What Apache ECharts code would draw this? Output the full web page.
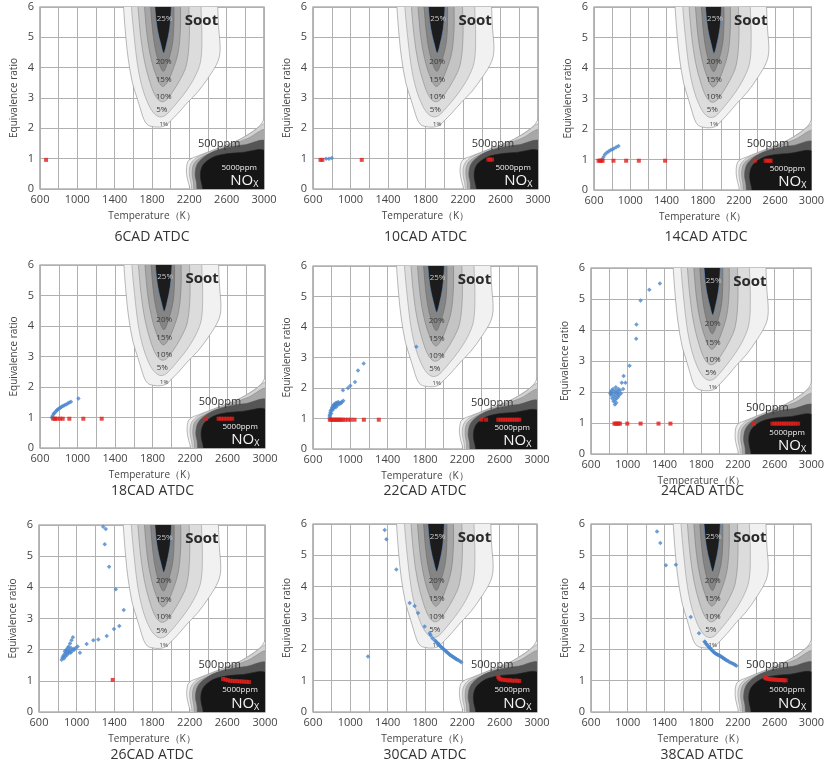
<!DOCTYPE html>
<html lang="en">
<head>
    <meta charset="UTF-8">
    <title>Equivalence ratio - temperature maps</title>
    <script src="https://cdn.jsdelivr.net/npm/echarts@6.0.0/dist/echarts.min.js"></script>
    <style>
        body { margin: 0; background: #fff; }
        #chart { width: 827px; height: 767px; }
    </style>
</head>
<body>
    <div id="chart"></div>
    <script>
        // axis ranges
        const tempMin = 600, tempMax = 3000, tempStep = 200, tempLabelStep = 400;
        const phiMin = 0, phiMax = 6, phiStep = 1;

        const panelTitles = ['6CAD ATDC', '10CAD ATDC', '14CAD ATDC', '18CAD ATDC', '22CAD ATDC',
            '24CAD ATDC', '26CAD ATDC', '30CAD ATDC', '38CAD ATDC'];

        // soot contour outlines [T, phi]
        const soot01 = [[1490,6.4],[1495,6],[1520,5],[1545,4.3],[1590,3.5],[1640,3.0],[1680,2.6],[1712,2.3],[1750,2.12],[1800,2.06],[1880,2.04],[1950,2.1],[2000,2.25],[2080,2.5],[2180,2.85],[2290,3.2],[2410,3.7],[2505,4.2],[2530,4.6],[2515,5.3],[2505,6],[2505,6.4]];
        const soot05 = [[1575,6.4],[1580,6],[1610,5],[1650,4],[1700,3.3],[1760,2.8],[1820,2.5],[1880,2.38],[1940,2.42],[2000,2.6],[2070,2.85],[2160,3.2],[2260,3.7],[2320,4.2],[2335,5],[2325,6],[2325,6.4]];
        const soot10 = [[1645,6.4],[1650,6],[1680,5],[1720,4.2],[1780,3.5],[1840,3.05],[1900,2.88],[1960,2.95],[2020,3.2],[2100,3.6],[2170,4.1],[2200,5],[2195,6],[2195,6.4]];
        const soot15 = [[1715,6.4],[1720,6],[1750,5],[1790,4.3],[1850,3.7],[1910,3.38],[1960,3.5],[2020,3.9],[2080,4.5],[2105,5.3],[2105,6],[2105,6.4]];
        const soot20 = [[1780,6.4],[1785,6],[1815,5],[1860,4.3],[1920,3.88],[1970,4.2],[2020,4.8],[2035,5.5],[2035,6],[2035,6.4]];
        const soot25 = [[1825,6.4],[1830,6],[1855,5.3],[1900,4.7],[1925,4.48],[1950,4.7],[1990,5.3],[2008,6],[2008,6.4]];

        // NOx contour outlines [T, phi]
        const nox500 = [[2240,-0.4],[2200,0.1],[2175,0.4],[2170,0.7],[2195,0.95],[2300,1.1],[2450,1.28],[2600,1.45],[2750,1.65],[2880,1.9],[2960,2.1],[3020,2.35],[3020,-0.4]];
        const nox1000 = [[2265,-0.4],[2218,0.2],[2200,0.5],[2212,0.8],[2272,1.02],[2400,1.2],[2560,1.4],[2720,1.6],[2860,1.85],[3020,2.12],[3020,-0.4]];
        const nox2000 = [[2290,-0.4],[2242,0.25],[2230,0.55],[2252,0.85],[2330,1.05],[2480,1.25],[2640,1.45],[2820,1.66],[3020,1.92],[3020,-0.4]];
        const nox3000 = [[2325,-0.4],[2275,0.25],[2262,0.5],[2285,0.82],[2355,1.05],[2470,1.25],[2620,1.38],[2800,1.46],[3020,1.55],[3020,-0.4]];
        const nox5000 = [[2385,-0.4],[2338,0.1],[2318,0.45],[2338,0.75],[2400,0.95],[2480,1.08],[2600,1.16],[2750,1.2],[3020,1.22],[3020,-0.4]];

        // map annotations [text, T, phi, kind]
        const mapLabels = [
            ['25%', 1935, 5.6, 'core'], ['20%', 1925, 4.2, 'band'], ['15%', 1925, 3.6, 'band'],
            ['10%', 1925, 3.05, 'band'], ['5%', 1905, 2.62, 'band'], ['1%', 1925, 2.14, 'tiny'],
            ['Soot', 2330, 5.55, 'soot'], ['500ppm', 2520, 1.5, 'ppm'],
            ['5000ppm', 2735, 0.7, 'ppmIn'], ['{a|NO}{b|X}', 2790, 0.27, 'nox']
        ];

        // red points (phi = 1 line) and blue points for each crank angle
        const red06 = [[665,0.96]];
        const blue06 = [];

        const red10 = [[680,0.96],[700,0.96],[1120,0.96],[2470,0.97],[2490,0.97],[2510,0.97]];
        const blue10 = [[740,1.0],[770,1.0],[800,1.02]];

        const red14 = [[650,0.96],[665,0.96],[680,0.96],[695,0.96],[815,0.96],[955,0.96],[1095,0.96],[1385,0.96],
            [2375,0.96],[2495,0.96],[2515,0.96],[2535,0.96],[2550,0.96]];
        const blue14 = [[690,1.0],[705,1.08],[720,1.16],[740,1.22],[760,1.26],[780,1.3],[800,1.33],[820,1.36],[845,1.4],[870,1.44]];

        const red18 = [[742,0.96],[760,0.96],[778,0.96],[813,0.96],[842,0.96],[913,0.96],[1062,0.96],[1258,0.96],
            [2372,0.96],[2505,0.96],[2530,0.96],[2560,0.96],[2590,0.96],[2620,0.96],[2650,0.96]];
        const blue18 = [[725,1.0],[735,1.06],[745,1.12],[755,1.15],[768,1.2],[780,1.24],[792,1.27],[805,1.3],[818,1.32],
            [830,1.35],[845,1.38],[860,1.4],[878,1.43],[895,1.46],[912,1.49],[930,1.52],[1010,1.62]];

        const red22 = [[780,0.96],[795,0.96],[810,0.96],[825,0.96],[840,0.96],[855,0.96],[870,0.96],[885,0.96],[900,0.96],
            [920,0.96],[945,0.96],[975,0.96],[1005,0.96],[1045,0.96],[1145,0.96],[1305,0.96],[2405,0.96],[2455,0.96],
            [2585,0.96],[2610,0.96],[2635,0.96],[2660,0.96],[2685,0.96],[2710,0.96],[2735,0.96],[2760,0.96],[2785,0.96],[2810,0.96]];
        const blue22 = [[778,1.02],[778,1.08],[780,1.12],[785,1.2],[790,1.26],[795,1.16],[800,1.3],[805,1.36],[810,1.28],
            [815,1.42],[820,1.34],[825,1.46],[830,1.38],[835,1.44],[840,1.5],[845,1.37],[850,1.47],[855,1.52],[860,1.43],
            [865,1.49],[870,1.54],[880,1.47],[890,1.52],[900,1.5],[910,1.55],[925,1.58],[921,1.93],[975,2.0],[1000,2.07],
            [1050,2.2],[1082,2.57],[1143,2.8],[1707,3.35]];

        const red24 = [[855,0.98],[870,0.98],[885,0.98],[900,0.98],[915,0.98],[995,0.98],[1140,0.98],[1335,0.98],[1465,0.98],
            [2375,0.98],[2575,0.98],[2600,0.98],[2625,0.98],[2650,0.98],[2675,0.98],[2700,0.98],[2725,0.98],[2750,0.98],
            [2775,0.98],[2800,0.98],[2825,0.98],[2855,0.98]];
        const blue24 = [[810,1.95],[815,2.0],[820,1.9],[825,2.05],[830,1.8],[835,1.95],[840,2.1],[845,1.7],[850,1.85],
            [855,2.0],[860,1.6],[862,1.75],[865,1.9],[870,2.15],[872,2.05],[875,1.65],[880,1.8],[885,1.95],[890,2.0],
            [895,1.85],[900,2.1],[905,1.9],[915,2.05],[925,1.95],[935,2.3],[950,2.1],[955,2.52],[975,2.3],[1020,2.85],
            [1092,3.72],[1095,4.18],[1140,4.95],[1235,5.3],[1350,5.5]];

        const red26 = [[1383,1.03],[2555,1.06],[2580,1.04],[2605,1.02],[2630,1.0],[2655,1.0],[2680,0.99],[2705,0.99],
            [2730,0.98],[2755,0.98],[2780,0.97],[2805,0.97],[2830,0.96]];
        const blue26 = [[840,1.68],[850,1.75],[858,1.8],[865,1.72],[870,1.85],[875,1.95],[880,1.78],[885,1.9],[890,2.0],
            [895,1.83],[900,1.95],[905,2.05],[910,1.88],[915,2.1],[920,1.92],[925,1.98],[930,2.2],[935,1.9],[940,2.05],
            [945,2.3],[950,1.95],[960,2.4],[965,2.02],[975,2.0],[990,2.05],[1010,2.1],[1035,1.9],[1106,2.18],[1177,2.3],
            [1230,2.33],[1319,2.44],[1396,2.66],[1453,2.76],[1281,5.94],[1309,5.87],[1298,5.38],[1345,4.66],[1416,3.94],[1500,3.27]];

        const red30 = [[2585,1.12],[2595,1.07],[2610,1.04],[2635,1.03],[2660,1.02],[2685,1.01],[2710,1.01],[2735,1.0],
            [2760,1.0],[2785,1.0],[2810,0.99]];
        const blue30 = [[1368,5.81],[1386,5.51],[1493,4.55],[1636,3.48],[1689,3.38],[1725,3.16],[1796,2.73],[1850,2.51],
            [1860,2.45],[1880,2.35],[1904,2.29],[1915,2.26],[1925,2.22],[1935,2.2],[1945,2.17],[1955,2.13],[1965,2.1],
            [1975,2.07],[1985,2.04],[1995,2.02],[2005,1.99],[2015,1.96],[2025,1.94],[2035,1.91],[2045,1.88],[2055,1.86],
            [2065,1.83],[2075,1.81],[2085,1.79],[2095,1.77],[2105,1.75],[2115,1.73],[2125,1.71],[2135,1.69],[2145,1.67],
            [2160,1.65],[2175,1.62],[2190,1.59],[1189,1.77]];

        const red38 = [[2495,1.1],[2505,1.08],[2520,1.06],[2540,1.05],[2560,1.04],[2580,1.04],[2600,1.03],[2620,1.03],
            [2640,1.02],[2660,1.02],[2680,1.02],[2700,1.01],[2720,1.01]];
        const blue38 = [[1319,5.76],[1355,5.39],[1416,4.68],[1524,4.7],[1686,3.03],[1776,2.51],[1837,2.24],[1840,2.24],
            [1850,2.19],[1860,2.16],[1870,2.12],[1880,2.08],[1890,2.05],[1900,2.02],[1910,1.99],[1920,1.96],[1930,1.93],
            [1940,1.9],[1950,1.88],[1960,1.86],[1970,1.84],[1980,1.83],[1990,1.81],[2000,1.8],[2010,1.78],[2020,1.76],
            [2030,1.74],[2040,1.72],[2050,1.7],[2060,1.68],[2070,1.66],[2080,1.64],[2095,1.62],[2110,1.59],[2125,1.57],
            [2140,1.55],[2155,1.53],[2170,1.5],[2183,1.48]];

        const redPts = [red06, red10, red14, red18, red22, red24, red26, red30, red38];
        const bluePts = [blue06, blue10, blue14, blue18, blue22, blue24, blue26, blue30, blue38];

        // layout of the nine plot areas [left, top, width, height]
        const boxes = [
            [40, 7, 224, 182], [313, 7, 225, 182], [594, 7, 224, 183],
            [40, 265, 225, 183], [313, 266, 224, 183], [591, 268, 223, 186],
            [39, 525, 226, 187], [313, 524, 224, 188], [591, 524, 222, 188]
        ];
        const titleY = [237, 491, 755];
        const FONT = '"Open Sans", "DejaVu Sans", sans-serif';

        const layers = [
            { pts: soot01, fill: '#f1f1f1', stroke: '#8c8c8c' },
            { pts: soot05, fill: '#dcdcdc', stroke: '#9a9a9a' },
            { pts: soot10, fill: '#c4c4c4', stroke: '#8a8a8a' },
            { pts: soot15, fill: '#a6a6a6', stroke: '#7a7a7a' },
            { pts: soot20, fill: '#858585', stroke: '#6a6a6a' },
            { pts: soot25, fill: '#1c1c1c', stroke: '#6b95c8' },
            { pts: nox500, fill: '#efefef', stroke: '#8c8c8c' },
            { pts: nox1000, fill: '#d2d2d2', stroke: '#999' },
            { pts: nox2000, fill: '#a8a8a8', stroke: '#888' },
            { pts: nox3000, fill: '#555555', stroke: '#555' },
            { pts: nox5000, fill: '#161616', stroke: '#222' }
        ];

        const labelStyle = {
            core: { fontSize: 8, fill: '#c8c8c8' },
            band: { fontSize: 8, fill: '#3a3a3a' },
            tiny: { fontSize: 6, fill: '#444' },
            soot: { fontSize: 15, fill: '#2a2a2a', fontWeight: 'bold' },
            ppm: { fontSize: 11, fill: '#333' },
            ppmIn: { fontSize: 8, fill: '#f0f0f0' },
            nox: { fontSize: 15, fill: '#f5f5f5' }
        };

        function drawMap(params, api) {
            const cs = params.coordSys;
            const kids = layers.map(function (l) {
                return {
                    type: 'polygon',
                    shape: { points: l.pts.map(function (p) { return api.coord(p); }), smooth: 0.35 },
                    style: { fill: l.fill, stroke: l.stroke, lineWidth: 0.6 }
                };
            });
            mapLabels.forEach(function (lb) {
                const pos = api.coord([lb[1], lb[2]]);
                const st = labelStyle[lb[3]];
                const style = {
                    text: lb[0], fill: st.fill, fontSize: st.fontSize, fontFamily: FONT,
                    fontWeight: st.fontWeight || 'normal',
                    align: 'center', verticalAlign: 'middle', textAlign: 'center', textVerticalAlign: 'middle'
                };
                if (lb[3] === 'nox') {
                    style.rich = {
                        a: { fontSize: 15, fill: '#f5f5f5', fontFamily: FONT },
                        b: { fontSize: 9, fill: '#f5f5f5', fontFamily: FONT, padding: [8, 0, 0, 0] }
                    };
                }
                kids.push({ type: 'text', x: pos[0], y: pos[1], style: style });
            });
            return {
                type: 'group',
                children: kids,
                clipPath: { type: 'rect', shape: { x: cs.x, y: cs.y, width: cs.width, height: cs.height } }
            };
        }

        const chart = echarts.init(document.getElementById('chart'));
        const grids = [], xAxes = [], yAxes = [], series = [], titles = [];

        boxes.forEach(function (b, i) {
            grids.push({
                left: b[0], top: b[1], width: b[2], height: b[3],
                show: true, borderColor: '#8a8a8a', borderWidth: 1.2, backgroundColor: '#fff'
            });
            xAxes.push({
                gridIndex: i, type: 'value', min: tempMin, max: tempMax, interval: tempStep,
                name: 'Temperature（K）', nameLocation: 'middle', nameGap: 22,
                nameTextStyle: { fontSize: 10, color: '#444', fontFamily: FONT },
                axisLine: { show: false }, axisTick: { show: false },
                axisLabel: {
                    fontSize: 11, color: '#444', margin: 5, fontFamily: FONT,
                    formatter: function (v) { return (v - tempMin) % tempLabelStep === 0 ? String(v) : ''; }
                },
                splitLine: { show: true, lineStyle: { color: '#b0b0b0', width: 1 } }
            });
            yAxes.push({
                gridIndex: i, type: 'value', min: phiMin, max: phiMax, interval: phiStep,
                name: 'Equivalence ratio', nameLocation: 'middle', nameGap: 21,
                nameTextStyle: { fontSize: 10, color: '#444', fontFamily: FONT },
                axisLine: { show: false }, axisTick: { show: false },
                axisLabel: { fontSize: 11, color: '#444', margin: 6, fontFamily: FONT },
                splitLine: { show: true, lineStyle: { color: '#b0b0b0', width: 1 } }
            });
            series.push({
                type: 'custom', xAxisIndex: i, yAxisIndex: i, z: 2, silent: true,
                data: [[tempMin, phiMin]], renderItem: drawMap
            });
            series.push({
                type: 'scatter', xAxisIndex: i, yAxisIndex: i, z: 4, data: bluePts[i],
                symbol: 'diamond', symbolSize: 4.5, itemStyle: { color: '#4a86cc' }
            });
            series.push({
                type: 'scatter', xAxisIndex: i, yAxisIndex: i, z: 5, data: redPts[i],
                symbol: 'rect', symbolSize: 4, itemStyle: { color: '#e0211d' }
            });
            titles.push({
                type: 'text', x: b[0] + b[2] / 2, y: titleY[Math.floor(i / 3)],
                style: {
                    text: panelTitles[i], fill: '#333', fontSize: 14, fontFamily: FONT,
                    align: 'center', verticalAlign: 'middle', textAlign: 'center', textVerticalAlign: 'middle'
                }
            });
        });

        chart.setOption({
            animation: false,
            grid: grids,
            xAxis: xAxes,
            yAxis: yAxes,
            series: series,
            graphic: titles
        });
    </script>
</body>
</html>
